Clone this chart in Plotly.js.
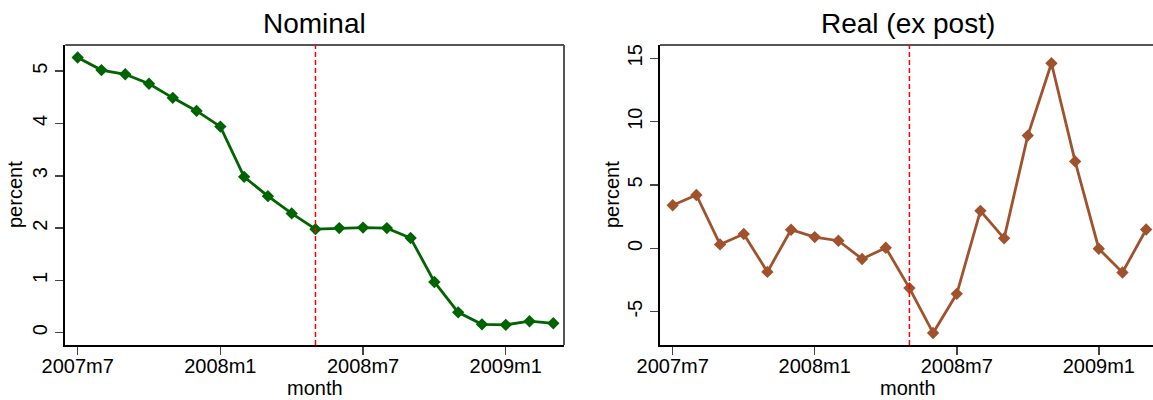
<!DOCTYPE html>
<html>
<head>
<meta charset="utf-8">
<script src="https://cdn.plot.ly/plotly-3.0.1.min.js"></script>
<style>
  html, body { margin: 0; padding: 0; background: #ffffff; }
  #chart { width: 1153px; height: 400px; }
</style>
</head>
<body>
<div id="chart"></div>
<script>
// Monthly observations, 2007m7 through 2009m3
const months = ['2007m7','2007m8','2007m9','2007m10','2007m11','2007m12',
                '2008m1','2008m2','2008m3','2008m4','2008m5','2008m6',
                '2008m7','2008m8','2008m9','2008m10','2008m11','2008m12',
                '2009m1','2009m2','2009m3'];

// Nominal policy rate, percent
const nominalRate = [5.26, 5.02, 4.94, 4.76, 4.49, 4.24,
                     3.94, 2.98, 2.61, 2.28, 1.98, 2.00,
                     2.01, 2.00, 1.81, 0.97, 0.39, 0.16,
                     0.15, 0.22, 0.18];

// Real (ex post) rate, percent
const realRate = [3.40, 4.21, 0.31, 1.13, -1.86, 1.47,
                  0.89, 0.60, -0.84, 0.05, -3.14, -6.68,
                  -3.59, 2.96, 0.79, 8.90, 14.61, 6.86,
                  -0.03, -1.91, 1.49];

// Axis ticks
const monthTicks = ['2007m7', '2008m1', '2008m7', '2009m1'];
const nominalTickVals = [0, 1, 2, 3, 4, 5];
const nominalTickText = ['0', '1', '2', '3', '4', '5'];
const realTickVals = [-5, 0, 5, 10, 15];
const realTickText = ['-5', '0', '5', '10', '15'];

// Reference month marked by the dashed line
const markMonth = '2008m5';

const FONT = 'Liberation Sans, Arial, Helvetica, sans-serif';
const W = 1153, H = 400;
const px = v => v / W;          // horizontal pixel -> paper
const py = v => 1 - v / H;      // vertical pixel -> paper

const traces = [
  {
    x: months, y: nominalRate, xaxis: 'x', yaxis: 'y',
    type: 'scatter', mode: 'lines+markers',
    line: { color: '#006400', width: 2.8 },
    marker: { symbol: 'diamond', size: 9.5, color: '#006400' },
    cliponaxis: false, hoverinfo: 'x+y'
  },
  {
    x: months, y: realRate, xaxis: 'x2', yaxis: 'y2',
    type: 'scatter', mode: 'lines+markers',
    line: { color: '#A0522D', width: 2.8 },
    marker: { symbol: 'diamond', size: 9.5, color: '#A0522D' },
    cliponaxis: false, hoverinfo: 'x+y'
  }
];

function xAxis(domain, range, anchor) {
  return {
    domain: domain, range: range, anchor: anchor,
    type: 'category',
    tickmode: 'array', tickvals: monthTicks, ticktext: monthTicks,
    ticks: 'outside', ticklen: 8, tickwidth: 1.5, tickcolor: '#444',
    ticklabelstandoff: -6,
    showline: true, linecolor: '#000', linewidth: 2,
    showgrid: false, zeroline: false,
    tickfont: { family: FONT, size: 20, color: '#000' }
  };
}
function yAxis(range, vals, text, anchor) {
  return {
    domain: [py(345), py(45)], range: range, anchor: anchor,
    tickmode: 'array', tickvals: vals, ticktext: text,
    tickangle: -90,
    ticks: 'outside', ticklen: 8, tickwidth: 1.5, tickcolor: '#444',
    showline: true, linecolor: '#000', linewidth: 2,
    showgrid: false, zeroline: false,
    tickfont: { family: FONT, size: 20, color: '#000' }
  };
}

const frameGray = '#555';
const shapes = [
  // top and right borders of the left panel
  { type: 'line', xref: 'x domain', yref: 'y domain', x0: 0, x1: 1, y0: 1, y1: 1,
    line: { color: frameGray, width: 2 } },
  { type: 'line', xref: 'x domain', yref: 'y domain', x0: 1, x1: 1, y0: 0, y1: 1,
    line: { color: frameGray, width: 2 } },
  // top border of the right panel
  { type: 'line', xref: 'x2 domain', yref: 'y2 domain', x0: 0, x1: 1, y0: 1, y1: 1,
    line: { color: frameGray, width: 2 } },
  // dashed markers
  { type: 'line', xref: 'x', yref: 'y domain', x0: markMonth, x1: markMonth, y0: 0, y1: 1,
    line: { color: '#ff0000', width: 1.5, dash: '5px,3px' } },
  { type: 'line', xref: 'x2', yref: 'y2 domain', x0: markMonth, x1: markMonth, y0: 0, y1: 1,
    line: { color: '#ff0000', width: 1.5, dash: '5px,3px' } }
];

function label(text, x, y, size, angle) {
  return {
    text: text, xref: 'paper', yref: 'paper', x: x, y: y,
    xanchor: 'center', yanchor: 'middle', showarrow: false,
    textangle: angle || 0,
    font: { family: FONT, size: size, color: '#000' }
  };
}

const annotations = [
  label('Nominal', px(314.5), py(23), 28),
  label('Real (ex post)', px(908.5), py(23), 28),
  label('month', px(314.5), py(388), 20),
  label('month', px(908.5), py(388), 20),
  label('percent', px(15), py(195), 20, -90),
  label('percent', px(612), py(195), 20, -90)
];

const layout = {
  width: W, height: H,
  margin: { l: 0, r: 0, t: 0, b: 0 },
  paper_bgcolor: '#ffffff', plot_bgcolor: '#ffffff',
  showlegend: false,
  xaxis: xAxis([px(65.3), px(564)], [-0.52, 20.45], 'y'),
  yaxis: yAxis([-0.235, 5.50], nominalTickVals, nominalTickText, 'x'),
  xaxis2: xAxis([px(660), 1], [-0.537, 20.29], 'y2'),
  yaxis2: yAxis([-7.63, 16.05], realTickVals, realTickText, 'x2'),
  shapes: shapes,
  annotations: annotations
};

Plotly.newPlot('chart', traces, layout, { displayModeBar: false, staticPlot: true });
</script>
</body>
</html>
